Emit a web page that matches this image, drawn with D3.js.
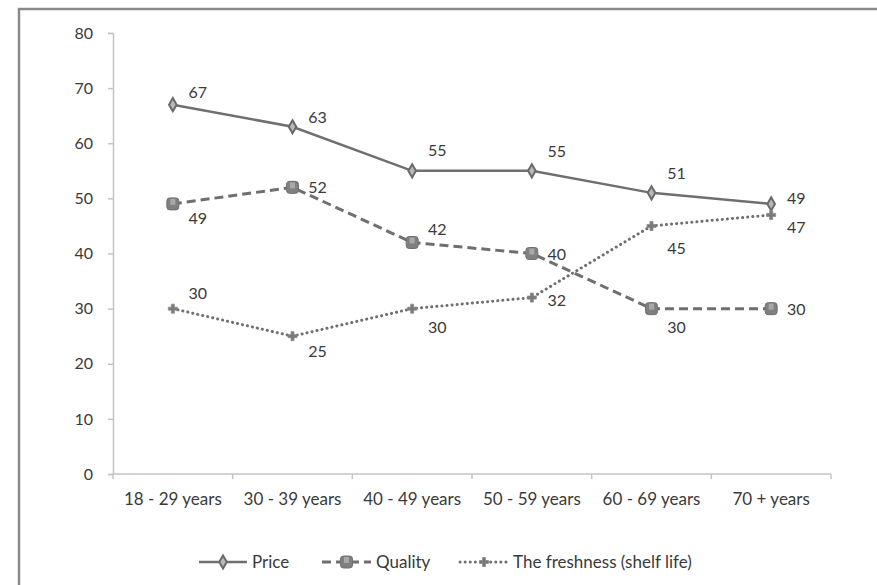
<!DOCTYPE html>
<html>
<head>
<meta charset="utf-8">
<script src="https://cdn.jsdelivr.net/npm/d3@7"></script>
<style>
  html, body { margin: 0; padding: 0; background: #fff; }
  svg { display: block; }
  text { font-family: Lato, "Open Sans", sans-serif; fill: #3a3a3a; }
</style>
</head>
<body>
<svg id="chart" width="877" height="585"></svg>
<script>
// Age groups on the x axis
const categories = ["18 - 29 years", "30 - 39 years", "40 - 49 years", "50 - 59 years", "60 - 69 years", "70 + years"];
// Share of respondents naming each factor (%)
const price     = [67, 63, 55, 55, 51, 49];
const quality   = [49, 52, 42, 40, 30, 30];
const freshness = [30, 25, 30, 32, 45, 47];
const seriesNames = ["Price", "Quality", "The freshness (shelf life)"];
const yTicks = [0, 10, 20, 30, 40, 50, 60, 70, 80];

// Data label placement: vertical nudge of each label relative to its point
const labelDy = [
  [-12, -9, -20, -19, -19, -5],
  [15, 0, -13, 1, 19, 1],
  [-15, 15, 19, 3, 22, 12]
];

const svg = d3.select("#chart");
const lineColor = "#6f6f6f";
const fontSize = "16px";

// Outer frame
svg.append("rect")
  .attr("x", 19).attr("y", 9).attr("width", 900).attr("height", 620)
  .attr("fill", "none").attr("stroke", "#8a8a8a").attr("stroke-width", 2.5);

const x = d3.scaleBand().domain(categories).range([113, 831]);
const y = d3.scaleLinear().domain([0, 80]).range([474, 33]);

// Y axis
const yAxis = svg.append("g").attr("transform", "translate(113,0)")
  .call(d3.axisLeft(y).tickValues(yTicks).tickSize(5).tickPadding(15));
yAxis.select(".domain").attr("stroke", "#c4c4c4").attr("stroke-width", 1.5);
yAxis.selectAll(".tick line").attr("stroke", "#c4c4c4").attr("stroke-width", 1.5);
yAxis.selectAll(".tick text").style("font-size", fontSize).attr("fill", "#3a3a3a")
  .style("font-family", "Lato, sans-serif");

// X axis: ticks between categories
const xAxisG = svg.append("g").attr("transform", "translate(0,474)");
xAxisG.append("line").attr("x1", 113).attr("x2", 831)
  .attr("stroke", "#c4c4c4").attr("stroke-width", 1.5);
const bounds = categories.map(c => x(c)).concat([x.range()[1]]);
xAxisG.selectAll("line.tk").data(bounds).enter().append("line").attr("class", "tk")
  .attr("x1", d => d).attr("x2", d => d).attr("y1", 0).attr("y2", 5)
  .attr("stroke", "#c4c4c4").attr("stroke-width", 1.5);
xAxisG.selectAll("text").data(categories).enter().append("text")
  .attr("x", d => x(d) + x.bandwidth() / 2).attr("y", 31)
  .attr("text-anchor", "middle").style("font-size", "17px").text(d => d);

const cx = c => x(c) + x.bandwidth() / 2;

const styles = [
  { data: price, dash: null, width: 2.5, cap: "butt" },
  { data: quality, dash: "9,5", width: 3, cap: "butt" },
  { data: freshness, dash: "0.1,5", width: 3, cap: "round" }
];

function drawMarker(g, kind, px, py) {
  if (kind === 0) {
    g.append("path").attr("d", d3.symbol().type(d3.symbolDiamond).size(50)())
      .attr("transform", `translate(${px},${py})`)
      .attr("fill", "#b8b8b8").attr("stroke", "#6a6a6a").attr("stroke-width", 2);
  } else if (kind === 1) {
    g.append("rect").attr("x", px - 6).attr("y", py - 6).attr("width", 12).attr("height", 12)
      .attr("rx", 3).attr("fill", "#808080").attr("stroke", "#707070").attr("stroke-width", 1);
    g.append("rect").attr("x", px - 2.5).attr("y", py - 5).attr("width", 5).attr("height", 6)
      .attr("fill", "#a8a8a8");
  } else {
    g.append("path").attr("d", d3.symbol().type(d3.symbolCross).size(45)())
      .attr("transform", `translate(${px},${py})`)
      .attr("fill", "#7a7a7a").attr("stroke", "#8a8a8a").attr("stroke-width", 0.8);
  }
}

const line = d3.line().x((d, i) => cx(categories[i])).y(d => y(d));

styles.forEach((s, k) => {
  const g = svg.append("g");
  g.append("path").datum(s.data).attr("d", line)
    .attr("fill", "none").attr("stroke", lineColor).attr("stroke-width", s.width)
    .attr("stroke-dasharray", s.dash).attr("stroke-linecap", s.cap);
  s.data.forEach((v, i) => drawMarker(g, k, cx(categories[i]), y(v)));
  g.selectAll("text.lbl").data(s.data).enter().append("text").attr("class", "lbl")
    .attr("x", (d, i) => cx(categories[i]) + 25)
    .attr("y", (d, i) => y(d) + labelDy[k][i])
    .attr("dy", "0.35em").attr("text-anchor", "middle")
    .style("font-size", fontSize).text(d => d);
});

// Legend
const legendY = 562;
const legendItems = [
  { x0: 199, tx: 252 },
  { x0: 322, tx: 376 },
  { x0: 460, tx: 513 }
];
legendItems.forEach((it, k) => {
  const g = svg.append("g");
  const s = styles[k];
  g.append("line").attr("x1", it.x0).attr("x2", it.tx - 5).attr("y1", legendY).attr("y2", legendY)
    .attr("stroke", lineColor).attr("stroke-width", s.width)
    .attr("stroke-dasharray", s.dash).attr("stroke-linecap", s.cap);
  drawMarker(g, k, (it.x0 + it.tx - 5) / 2, legendY);
  g.append("text").attr("x", it.tx).attr("y", legendY).attr("dy", "0.35em")
    .style("font-size", "17px").text(seriesNames[k]);
});
</script>
</body>
</html>
